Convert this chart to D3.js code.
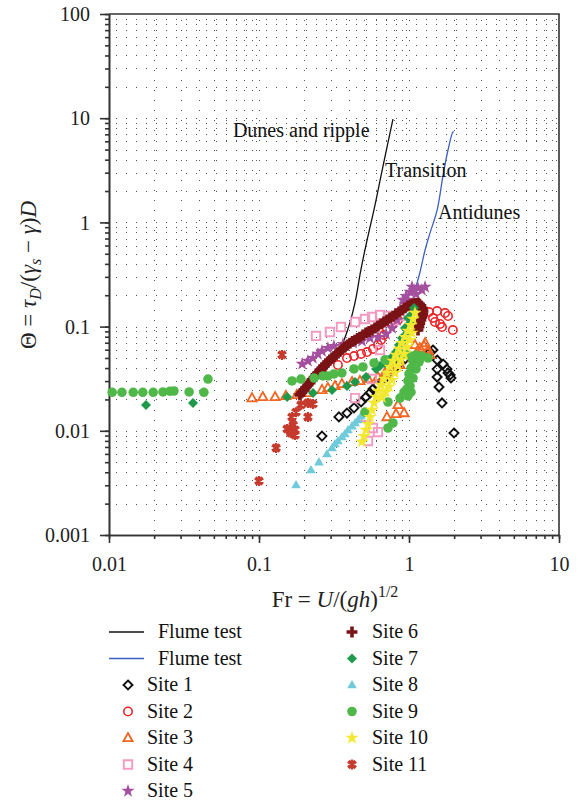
<!DOCTYPE html>
<html><head><meta charset="utf-8">
<script src="https://cdn.jsdelivr.net/npm/d3@7"></script>
<style>body{margin:0;background:#fff}svg{display:block}</style>
</head><body>
<svg id="c" width="578" height="803"></svg>
<script>
// ---- data ----
const xTickValues = [0.01, 0.1, 1, 10];
const xTickLabels = ["0.01", "0.1", "1", "10"];
const yTickValues = [0.001, 0.01, 0.1, 1, 10, 100];
const yTickLabels = ["0.001", "0.01", "0.1", "1", "10", "100"];

const flumeDunes = [[0.17,0.0225],[0.179,0.0236],[0.203,0.0281],[0.255,0.0328],[0.297,0.0428],[0.331,0.0534],[0.357,0.0666],[0.386,0.0888],[0.417,0.129],[0.443,0.188],[0.471,0.313],[0.603,1.64],[0.684,3.97],[0.782,9.8]];
const flumeAnti = [[1.05,0.2],[1.11,0.24],[1.18,0.327],[1.28,0.543],[1.38,0.79],[1.54,1.31],[1.68,2.73],[1.82,4.95],[1.965,7.38],[1.99,7.3]];

const site1 = [[0.263,0.0089],[0.341,0.0136],[0.386,0.0148],[0.43,0.0166],[0.479,0.0189],[0.517,0.0211],[0.55,0.0231],[0.575,0.0252],[0.612,0.0275],[0.661,0.0301],[0.703,0.0328],[0.747,0.0359],[0.807,0.0401],[0.871,0.0448],[0.94,0.0489],[1.38,0.057],[1.445,0.0596],[1.54,0.0478],[1.69,0.0437],[1.79,0.0391],[1.82,0.0359],[1.88,0.0343],[1.905,0.0321],[1.54,0.0391],[1.54,0.0328],[1.585,0.0263],[1.66,0.0185],[1.995,0.00953]];
const site2 = [[0.263,0.0383],[0.336,0.0428],[0.386,0.0499],[0.43,0.0522],[0.479,0.0546],[0.525,0.057],[0.575,0.061],[0.621,0.0666],[0.65,0.0743],[0.681,0.083],[0.713,0.0948],[0.771,0.1035],[0.845,0.1156],[1.36,0.138],[1.54,0.141],[1.74,0.135],[1.82,0.1264],[1.445,0.121],[1.49,0.1107],[1.61,0.106],[1.66,0.0991],[1.96,0.0927]];
const site3 = [[0.0898,0.0206],[0.106,0.0211],[0.128,0.0211],[0.151,0.0216],[0.179,0.0221],[0.209,0.0231],[0.263,0.0247],[0.288,0.0258],[0.321,0.0269],[0.357,0.0281],[0.417,0.0294],[0.471,0.0301],[0.533,0.0314],[0.621,0.0328],[0.692,0.0359],[0.771,0.0383],[0.871,0.0428],[1.064,0.0499],[1.13,0.057],[1.18,0.0622],[1.26,0.065],[1.34,0.0596],[1.38,0.0534],[1.15,0.0522],[1.096,0.0666],[1.28,0.0695],[0.713,0.01355],[0.819,0.0145],[0.927,0.0148],[0.845,0.0177]];
const site4 = [[0.24,0.0813],[0.297,0.0888],[0.352,0.0991],[0.437,0.1107],[0.509,0.1183],[0.567,0.1236],[0.641,0.1292],[0.724,0.1264],[0.807,0.1156],[0.871,0.1264],[0.641,0.0596],[0.567,0.0314],[0.437,0.0206],[0.517,0.01355],[0.575,0.01064],[0.621,0.00973],[0.533,0.00798]];
const site5 = [[0.194,0.0438],[0.212,0.0468],[0.229,0.0499],[0.247,0.0546],[0.263,0.0583],[0.288,0.0622],[0.316,0.065],[0.363,0.068],[0.424,0.0695],[0.486,0.0727],[0.55,0.0777],[0.621,0.0794],[0.703,0.0849],[0.771,0.097],[0.832,0.1156],[0.871,0.144],[0.912,0.18],[0.955,0.196],[1.016,0.215],[1.08,0.224],[1.148,0.234],[1.22,0.224],[1.28,0.24],[1.047,0.24],[1.114,0.205],[0.984,0.18],[0.94,0.165]];
const site6 = [[0.1875,0.0221],[0.1995,0.0247],[0.212,0.0275],[0.226,0.0308],[0.24,0.0344],[0.255,0.0383],[0.271,0.0419],[0.288,0.0457],[0.307,0.0499],[0.326,0.0534],[0.347,0.0583],[0.374,0.0637],[0.404,0.0695],[0.437,0.0743],[0.471,0.0794],[0.517,0.0869],[0.567,0.0927],[0.621,0.1014],[0.681,0.1107],[0.747,0.121],[0.819,0.132],[0.898,0.144],[0.984,0.158],[1.064,0.165],[1.148,0.168],[1.2,0.158],[1.24,0.141],[1.22,0.1236],[1.18,0.108],[1.148,0.0927],
  [0.193,0.0234],[0.205,0.026],[0.219,0.029],[0.233,0.0325],[0.247,0.036],[0.263,0.04],[0.279,0.0438],[0.297,0.0478],[0.316,0.0516],[0.336,0.0558],[0.36,0.061],[0.389,0.0666],[0.42,0.072],[0.454,0.077],[0.494,0.083],[0.542,0.0898],[0.594,0.097],[0.65,0.106],[0.714,0.1157],[0.783,0.126],[0.858,0.138],[0.94,0.151],[1.024,0.162],[1.106,0.167],[1.175,0.164],[1.225,0.15],[1.235,0.132],[1.2,0.116],[1.165,0.1]];
const site7 = [[0.01765,0.0177],[0.0363,0.0185],[0.154,0.0211],[0.229,0.0231],[0.307,0.0247],[0.386,0.0269],[0.437,0.0294],[0.517,0.0328],[0.603,0.0392],[0.692,0.0448],[0.771,0.051],[0.845,0.0596],[0.912,0.0711],[0.97,0.0869],[1.016,0.108],[1.047,0.132],[1.08,0.151],[0.984,0.121],[0.94,0.097],[0.898,0.0778],[0.857,0.0666],[0.819,0.057],[0.724,0.0479],[0.641,0.0419]];
const site8 = [[0.1766,0.00302],[0.222,0.0042],[0.251,0.00501],[0.284,0.00598],[0.307,0.00684],[0.321,0.00747],[0.336,0.00798],[0.357,0.00871],[0.374,0.00931],[0.392,0.01018],[0.417,0.0111],[0.437,0.01188],[0.457,0.0127],[0.479,0.01387]];
const site9 = [[0.0105,0.0234],[0.0122,0.0234],[0.0145,0.0234],[0.0168,0.0234],[0.0197,0.0234],[0.0229,0.0236],[0.0255,0.024],[0.0271,0.0241],[0.0342,0.0236],[0.0429,0.0234],[0.0457,0.0314],[0.166,0.0301],[0.1905,0.0314],[0.233,0.0321],[0.267,0.0336],[0.288,0.0336],[0.316,0.0351],[0.357,0.0359],[0.43,0.0392],[0.493,0.041],[0.585,0.0448],[0.692,0.0479],[0.832,0.051],[0.94,0.0546],[0.509,0.0151],[0.724,0.0189],[0.871,0.0206],[0.782,0.01188],[0.724,0.01064],[1.016,0.0522],[1.114,0.0534],[1.22,0.0522],[1.34,0.0499],[1.064,0.0468],[1.166,0.0457],[1.18,0.0489],[1.031,0.04],[1.114,0.0392],[1.0,0.0351],[1.064,0.0321],[0.984,0.0301],[1.016,0.0269],[0.97,0.0252],[1.031,0.0235],[0.984,0.0216],[0.927,0.0235]];
const site10 = [[0.486,0.00782],[0.501,0.0089],[0.517,0.0102],[0.533,0.0116],[0.55,0.01355],[0.567,0.01585],[0.585,0.0185],[0.603,0.0211],[0.621,0.0241],[0.65,0.0275],[0.681,0.0314],[0.713,0.0359],[0.747,0.041],[0.782,0.0468],[0.819,0.0534],[0.857,0.061],[0.898,0.0695],[0.94,0.0794],[0.984,0.0908],[1.031,0.1035],[1.064,0.1183],[1.096,0.135],[0.771,0.0307],[0.807,0.0359],[0.845,0.0419],[0.885,0.0479],[0.927,0.0546],[0.97,0.0637],[1.016,0.0743],[1.047,0.0869],[0.735,0.0265],[0.7,0.0235],[0.66,0.021]];
const site11 = [[0.1,0.0033],[0.13,0.00684],[0.154,0.0104],[0.1424,0.0535],[0.1905,0.0177],[0.212,0.0185],[0.229,0.0181],[0.1766,0.0151],[0.166,0.01355],[0.212,0.01355],[0.169,0.01138],[0.161,0.0104],[0.174,0.0102],[0.174,0.00912],[0.163,0.00953]];

const siteNames = ["Site 1","Site 2","Site 3","Site 4","Site 5","Site 6","Site 7","Site 8","Site 9","Site 10","Site 11"];
const siteColors = ["#111111","#ee2326","#f26522","#f39ac3","#a4509f","#7a1315","#1f9a4b","#6fcbdc","#4fb848","#f3e830","#c6392d"];
const siteData = [site1,site2,site3,site4,site5,site6,site7,site8,site9,site10,site11];
const annotations = [["Dunes and ripple",0.067,6.6],["Transition",0.692,2.73],["Antidunes",1.56,1.08]];

// ---- drawing ----
const FONT = "'Liberation Serif','Times New Roman',serif";
const svg = d3.select("#c");
const x = d3.scaleLog().domain([0.01,10]).range([109,559]);
const y = d3.scaleLog().domain([0.001,100]).range([535,14]);

function minors(lo, hi){const out=[];for(let e=lo;e<hi;e++){for(let k=1;k<10;k++){out.push(k*Math.pow(10,e));}}out.push(Math.pow(10,hi));return out;}
const xMin = minors(-2,1), yMin = minors(-3,2);

// dotted grid
const grid = svg.append("g").attr("stroke","#555").attr("stroke-width",1).attr("stroke-dasharray","1,9");
grid.selectAll(".gv").data(xMin.filter(v=>v>0.0101&&v<9.9)).join("line")
  .attr("x1",d=>Math.round(x(d))+0.5).attr("x2",d=>Math.round(x(d))+0.5).attr("y1",20).attr("y2",535);
grid.selectAll(".gh").data(yMin.filter(v=>v>0.00101&&v<99)).join("line")
  .attr("y1",d=>Math.round(y(d))+0.5).attr("y2",d=>Math.round(y(d))+0.5).attr("x1",116).attr("x2",559);

// axes
const axCol = "#333";
const xAxisMinor = d3.axisBottom(x).tickValues(xMin).tickFormat("").tickSize(4).tickSizeOuter(0);
const xAxisMajor = d3.axisBottom(x).tickValues(xTickValues).tickFormat((d,i)=>xTickLabels[i]).tickSize(8).tickSizeOuter(0);
const yAxisMinor = d3.axisLeft(y).tickValues(yMin).tickFormat("").tickSize(4).tickSizeOuter(0);
const yAxisMajor = d3.axisLeft(y).tickValues(yTickValues).tickFormat((d,i)=>yTickLabels[i]).tickSize(9).tickSizeOuter(0);
function style(g){g.select(".domain").attr("stroke",axCol).attr("stroke-width",1.6);g.selectAll(".tick line").attr("stroke",axCol).attr("stroke-width",1.6);g.selectAll("text").attr("font-family",FONT).attr("font-size",20).attr("fill","#222");}
svg.append("g").attr("transform","translate(0,535)").call(xAxisMinor).call(style);
const gx = svg.append("g").attr("transform","translate(0,535)").call(xAxisMajor).call(style);
gx.selectAll("text").attr("y",36).attr("dy",0);
svg.append("g").attr("transform","translate(109,0)").call(yAxisMinor).call(style);
const gy = svg.append("g").attr("transform","translate(109,0)").call(yAxisMajor).call(style);
gy.selectAll("text").attr("x",-19).attr("dy","0.33em");
svg.append("path").attr("d",`M109,${y(100)}H${x(10)}V535`).attr("fill","none").attr("stroke",axCol).attr("stroke-width",1.6);

// axis titles
const yt = svg.append("text").attr("transform","translate(36,275) rotate(-90)").attr("text-anchor","middle").attr("font-family",FONT).attr("font-size",23).attr("fill","#222");
yt.append("tspan").text("Θ = ");
yt.append("tspan").attr("font-style","italic").text("τ");
yt.append("tspan").attr("font-style","italic").attr("font-size",16).attr("dy",5).text("D");
yt.append("tspan").attr("dy",-5).text("/(");
yt.append("tspan").attr("font-style","italic").text("γ");
yt.append("tspan").attr("font-style","italic").attr("font-size",16).attr("dy",5).text("s");
yt.append("tspan").attr("dy",-5).text(" − ");
yt.append("tspan").attr("font-style","italic").text("γ");
yt.append("tspan").text(")");
yt.append("tspan").attr("font-style","italic").text("D");

const xt = svg.append("text").attr("x",335).attr("y",607).attr("text-anchor","middle").attr("font-family",FONT).attr("font-size",23).attr("fill","#222");
xt.append("tspan").text("Fr = ");
xt.append("tspan").attr("font-style","italic").text("U");
xt.append("tspan").text("/(");
xt.append("tspan").attr("font-style","italic").text("gh");
xt.append("tspan").text(")");
xt.append("tspan").attr("font-size",16).attr("dy",-10).text("1/2");

// flume lines
const line = d3.line().x(d=>x(d[0])).y(d=>y(d[1])).curve(d3.curveMonotoneX);
svg.append("path").datum(flumeDunes).attr("d",line).attr("fill","none").attr("stroke","#111").attr("stroke-width",1.3);
svg.append("path").datum(flumeAnti).attr("d",d3.line().x(d=>x(d[0])).y(d=>y(d[1])).curve(d3.curveCatmullRom)).attr("fill","none").attr("stroke","#3b5fc4").attr("stroke-width",1.3);

// annotations
svg.append("g").selectAll("text").data(annotations).join("text")
  .attr("x",d=>x(d[1])).attr("y",d=>y(d[2])).attr("font-family",FONT).attr("font-size",20).attr("fill","#111").text(d=>d[0]);

// marker shapes
function shape(i){
  switch(i){
    case 0: return {d:"M0,-4.5L4.5,0L0,4.5L-4.5,0Z", fill:false, sw:1.9};
    case 1: return {d:d3.symbol(d3.symbolCircle,55)(), fill:false, sw:1.6};
    case 2: return {d:"M0,-5L4.6,3.2L-4.6,3.2Z", fill:false, sw:1.8};
    case 3: return {d:"M-4.2,-4.2H4.2V4.2H-4.2Z", fill:false, sw:1.9};
    case 4: return {d:d3.symbol(d3.symbolStar,55)(), fill:true, sw:0};
    case 5: return {d:d3.symbol(d3.symbolCross,65)(), fill:true, sw:0};
    case 6: return {d:"M0,-5L5,0L0,5L-5,0Z", fill:true, sw:0};
    case 7: return {d:"M0,-5L4.8,3.3L-4.8,3.3Z", fill:true, sw:0};
    case 8: return {d:d3.symbol(d3.symbolCircle,72)(), fill:true, sw:0};
    case 9: return {d:d3.symbol(d3.symbolStar,55)(), fill:true, sw:0};
    case 10: return {d:"M0,-5V5M-4.3,-2.5L4.3,2.5M-4.3,2.5L4.3,-2.5M-3,-4L3,4M-3,4L3,-4", fill:false, sw:2.2};
  }
}
function drawMarker(sel, i){
  const s = shape(i);
  sel.attr("d",s.d).attr("fill",s.fill?siteColors[i]:"none").attr("stroke",s.fill?"none":siteColors[i]).attr("stroke-width",s.sw);
}
siteData.forEach((data,i)=>{
  svg.append("g").selectAll("path").data(data).join("path")
    .attr("transform",d=>`translate(${x(d[0])},${y(d[1])})`).call(drawMarker,i);
});

// legend
const leg = svg.append("g").attr("font-family",FONT).attr("font-size",20).attr("fill","#111");
const rowY = k => 632 + k*26.5;
const flumeLeg = [["Flume test","#111"],["Flume test","#3b5fc4"]];
flumeLeg.forEach((f,k)=>{
  leg.append("line").attr("x1",109).attr("x2",144).attr("y1",rowY(k)).attr("y2",rowY(k)).attr("stroke",f[1]).attr("stroke-width",1.5);
  leg.append("text").attr("x",158).attr("y",rowY(k)+6).text(f[0]);
});
siteNames.forEach((n,i)=>{
  const left = i<5;
  const k = left ? i+2 : i-5;
  const mx = left ? 128 : 352, tx = left ? 147 : 372;
  leg.append("path").attr("transform",`translate(${mx},${rowY(k)})`).call(drawMarker,i);
  leg.append("text").attr("x",tx).attr("y",rowY(k)+6).text(n);
});
</script>
</body></html>
